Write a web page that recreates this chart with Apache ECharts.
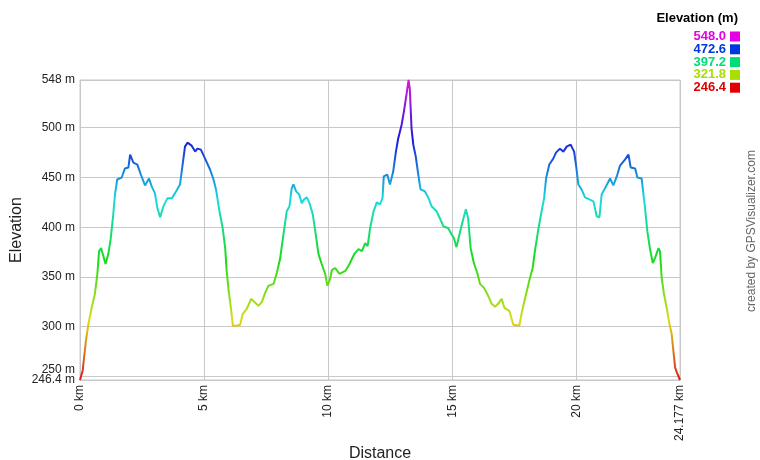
<!DOCTYPE html>
<html>
<head>
<meta charset="utf-8">
<script src="https://cdn.jsdelivr.net/npm/echarts@6/dist/echarts.min.js"></script>
<style>html,body{margin:0;padding:0;background:#fff}#c{width:760px;height:460px}</style>
</head>
<body>
<div id="c"></div>
<script>
// ---- data ----
const distanceKm = [0,0.11,0.16,0.24,0.34,0.47,0.6,0.7,0.77,0.85,0.94,1.03,1.14,1.24,1.34,1.41,1.5,1.68,1.81,1.95,2.02,2.15,2.31,2.45,2.62,2.78,2.89,3.02,3.12,3.23,3.36,3.52,3.7,3.87,4.03,4.14,4.23,4.33,4.5,4.64,4.73,4.87,5.04,5.24,5.38,5.48,5.62,5.75,5.85,5.91,5.99,6.08,6.16,6.32,6.45,6.56,6.72,6.9,7.06,7.19,7.33,7.46,7.59,7.8,7.93,8.06,8.2,8.33,8.44,8.53,8.6,8.71,8.83,8.94,9.03,9.14,9.25,9.38,9.48,9.61,9.74,9.88,9.97,10.08,10.15,10.28,10.46,10.69,10.86,11.05,11.22,11.36,11.49,11.59,11.69,11.83,11.96,12.08,12.19,12.24,12.38,12.49,12.62,12.73,12.82,12.96,13.05,13.16,13.24,13.29,13.36,13.43,13.53,13.63,13.72,13.9,14.03,14.17,14.37,14.5,14.64,14.84,14.97,15.07,15.17,15.24,15.34,15.44,15.55,15.64,15.74,15.87,16.01,16.12,16.28,16.41,16.59,16.72,16.85,16.99,17.1,17.3,17.46,17.7,17.8,17.93,18.1,18.24,18.33,18.47,18.6,18.7,18.78,18.91,19.07,19.18,19.34,19.48,19.61,19.77,19.84,19.91,19.99,20.08,20.21,20.35,20.52,20.69,20.82,20.93,21.02,21.15,21.36,21.49,21.63,21.76,21.96,22.1,22.19,22.37,22.46,22.63,22.77,22.86,22.97,23.08,23.17,23.31,23.37,23.44,23.53,23.64,23.75,23.84,23.91,23.98,24.05,24.177];
const elevationM = [246.4,256,268,286,303,319,333,353,376,379,371,363,373,389,413,433,448,450,459,460,473,465,463,453,442,449,441,434,419,410,421,429,429,436,443,464,481,485,482,476,479,478,469,458,448,438,416,399,379,356,336,319,301,301,302,313,318,328,324,321,325,334,341,343,354,368,393,416,421,439,443,436,433,424,428,430,424,413,396,373,363,353,341,348,357,359,353,356,363,373,378,376,384,381,399,416,425,423,429,451,453,443,456,476,489,503,516,534,548,539,499,483,471,453,438,436,430,421,416,409,401,399,393,389,380,381,398,408,418,409,379,364,354,343,339,333,323,320,323,328,319,316,302,301,314,328,346,359,376,398,416,429,449,463,469,475,479,476,481,483,485,476,462,443,438,430,428,426,411,410,433,439,449,442,451,462,468,473,460,459,450,449,419,396,378,364,369,379,376,349,333,319,303,293,276,259,254,246.4];
const yTicks = [250,300,350,400,450,500,548];
const yMinTick = [246.4];
const xTicks = [0,5,10,15,20,24.177];
const legendValues = ['548.0','472.6','397.2','321.8','246.4'];
const legendColors = ['#e600e6','#0038e0','#00dd77','#aadd00','#e00000'];

// ---- helpers ----
function hslHex(h,s,l){
  s/=100;l/=100;
  const k=n=>(n+h/30)%12, a=s*Math.min(l,1-l);
  const f=n=>l-a*Math.max(-1,Math.min(k(n)-3,Math.min(9-k(n),1)));
  const x=v=>Math.round(v*255).toString(16).padStart(2,'0');
  return '#'+x(f(0))+x(f(8))+x(f(4));
}
const gradient=[];
for(let h=0;h<=300;h+=15){gradient.push(hslHex(h,80,48));}

const chart = echarts.init(document.getElementById('c'));
const font = 'Arial, "Liberation Sans", sans-serif';
const legendGraphics = [{
  type:'text', right:22, top:12,
  style:{text:'Elevation (m)', font:'bold 13px '+font, fill:'#000', textAlign:'right'}
}];
legendValues.forEach((v,i)=>{
  legendGraphics.push({type:'text', right:34, top:30+i*12.8,
    style:{text:v, font:'bold 13px '+font, fill:legendColors[i]}});
  legendGraphics.push({type:'rect', shape:{x:730,y:31.5+i*12.8,width:10,height:10},
    style:{fill:legendColors[i]}});
});
legendGraphics.push({type:'text', x:758, y:231, rotation:Math.PI/2,
  style:{text:'created by GPSVisualizer.com', font:'12px '+font, fill:'#666',
    textAlign:'center', textVerticalAlign:'bottom'}});

const labelStyle = {fontFamily:font, fontSize:12, color:'#222'};
chart.setOption({
  animation:false,
  grid:{left:80, right:80, top:80, bottom:80, outerBoundsMode:'none', containLabel:false,
    show:true, borderColor:'#c8c8c8', borderWidth:1},
  xAxis:{
    type:'value', min:0, max:24.177,
    name:'Distance', nameLocation:'middle', nameGap:66, nameMoveOverlap:false,
    nameTextStyle:{fontFamily:font, fontSize:16, color:'#222'},
    axisLine:{lineStyle:{color:'#c8c8c8'}},
    axisTick:{show:false, customValues:xTicks},
    axisLabel:Object.assign({customValues:xTicks, rotate:90, margin:5, hideOverlap:false,
      formatter:v=>v+' km'}, labelStyle),
    splitLine:{show:true, lineStyle:{color:'#c8c8c8'}}
  },
  yAxis:[{
    type:'value', min:246.4, max:548,
    name:'Elevation', nameLocation:'middle', nameGap:55, nameMoveOverlap:false,
    nameTextStyle:{fontFamily:font, fontSize:16, color:'#222'},
    axisLine:{show:true, lineStyle:{color:'#c8c8c8'}},
    axisTick:{show:false, customValues:yTicks},
    axisLabel:Object.assign({customValues:yTicks, margin:5, hideOverlap:false,
      formatter:v=> v===250 ? '{up|250 m}' : v+' m',
      rich:{up:Object.assign({padding:[0,0,14,0]}, labelStyle)}}, labelStyle),
    splitLine:{show:true, lineStyle:{color:'#c8c8c8'}}
  },{
    type:'value', min:246.4, max:548, position:'left', offset:0,
    axisLine:{show:false}, axisTick:{show:false, customValues:yMinTick},
    splitLine:{show:false},
    axisLabel:Object.assign({customValues:yMinTick, margin:5, hideOverlap:false,
      formatter:v=>v+' m', rich:{}}, labelStyle)
  }],
  visualMap:{type:'continuous', show:false, dimension:1, min:246.4, max:548, inRange:{color:gradient}},
  series:[{
    type:'line', showSymbol:false, data:distanceKm.map((d,i)=>[d,elevationM[i]]),
    lineStyle:{width:2}
  }],
  graphic:legendGraphics
});
</script>
</body>
</html>
